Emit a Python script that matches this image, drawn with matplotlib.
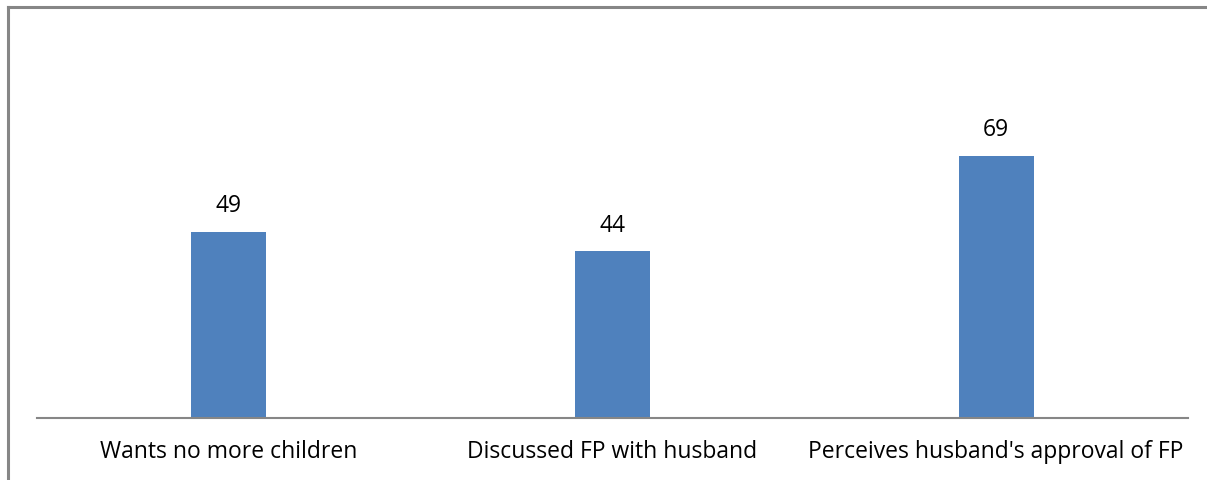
import matplotlib.pyplot as plt
from matplotlib.lines import Line2D

# data
categories = ["Wants no more children", "Discussed FP with husband",
              "Perceives husband's approval of FP"]
values = [49, 44, 69]

W, H = 1207, 480
fig = plt.figure(figsize=(W / 100, H / 100), dpi=100)
plt.rcParams['font.family'] = ['Open Sans', 'DejaVu Sans']

# chart frame (top and left visible only)
fig.add_artist(Line2D([7.5 / W, 7.5 / W], [0, 1 - 6.5 / H], color="#868686", lw=2.2,
                      transform=fig.transFigure))
fig.add_artist(Line2D([7.5 / W, 1], [1 - 6.5 / H, 1 - 6.5 / H], color="#868686", lw=2.2,
                      transform=fig.transFigure))

base = 418
left, right = 37, 1188
top_px = base - 80 * 3.8
ax = fig.add_axes([left / W, (H - base) / H, (right - left) / W, (base - top_px) / H])

x = range(len(categories))
bars = ax.bar(x, values, width=0.195, color="#4f81bd")
for xi, v in zip(x, values):
    ax.text(xi, v + 3.5, str(v), ha="center", va="bottom", fontsize=16.5, color="black")

ax.set_xlim(-0.5, len(categories) - 0.5)
ax.set_ylim(0, 80)
ax.set_yticks([])
ax.set_xticks(list(x))
ax.set_xticklabels(categories, fontsize=16.5)
ax.tick_params(axis="x", length=0, pad=16)
for s in ["top", "right", "left"]:
    ax.spines[s].set_visible(False)
ax.spines["bottom"].set_color("#868686")
ax.spines["bottom"].set_linewidth(1.5)

fig.savefig("out.png", dpi=100)
